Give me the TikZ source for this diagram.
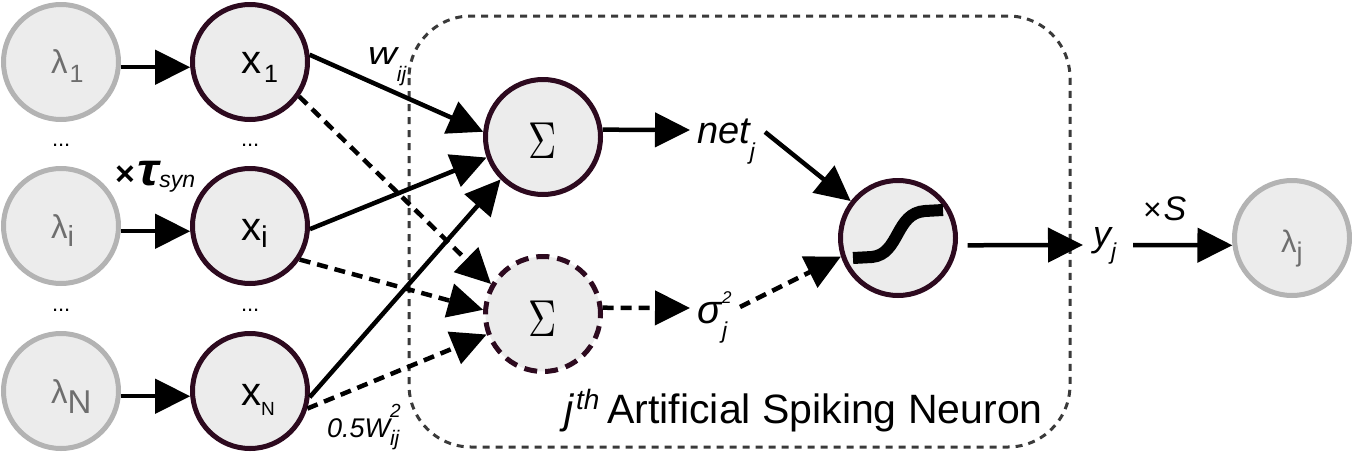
\documentclass[tikz,border=0pt]{standalone}
\usepackage{fontspec}
\setmainfont{Liberation Sans}
\usetikzlibrary{arrows.meta}
\newcommand\fsz[1]{\fontsize{#1}{#1}\selectfont}
\definecolor{lamgray}{HTML}{B3B3B3}
\definecolor{cfill}{HTML}{ECECEC}
\definecolor{dkp}{HTML}{2D0A1F}
\definecolor{ltxt}{HTML}{6E6E6E}
\definecolor{boxc}{HTML}{3A3A3A}
\begin{document}
\begin{tikzpicture}[x=1pt,y=-1pt,
  lam/.style={circle,minimum size=115pt,inner sep=0pt,line width=5pt,draw=lamgray,fill=cfill},
  neu/.style={circle,minimum size=115pt,inner sep=0pt,line width=5pt,draw=dkp,fill=cfill},
  neud/.style={neu,dash pattern=on 13pt off 8pt},
  lbl/.style={inner sep=0pt,outer sep=0pt,anchor=base west},
  conn/.style={line width=4.5pt,-{Triangle[length=35pt,width=34pt]}},
  dconn/.style={conn,dash pattern=on 11pt off 7pt},
  sumlbl/.style={inner sep=0pt},
]
\useasboundingbox (0,0) rectangle (1352,458);
% neuron box
\draw[boxc,line width=3pt,dash pattern=on 7pt off 6pt,rounded corners=62pt] (409,16) rectangle (1070,447);
% circles
\node[lam] (l1) at (61,62) {};
\node[lam] (li) at (61,226) {};
\node[lam] (lN) at (61,391) {};
\node[neu] (x1) at (250,62) {};
\node[neu] (xi) at (250,226) {};
\node[neu] (xN) at (250,391) {};
\node[neu] (sT) at (543,137) {};
\node[neud] (sB) at (543,314) {};
\node[neu] (sig) at (898,238) {};
\node[lam] (lj) at (1292,238) {};
% sigmoid glyph
\draw[line width=12pt] (853,258) -- (872,257) .. controls (900,254) and (895,213) .. (925,211) -- (943,210);
% free ends at text labels
\coordinate (netL) at (690,130);
\coordinate (netR) at (765,132);
\coordinate (sgL) at (690,308);
\coordinate (sgR) at (740,307);
\coordinate (yjL) at (1083,245);
\coordinate (yjR) at (1133,245);
% connectors
\draw[conn] (l1.-5) -- (x1.185);
\draw[conn] (li.-5) -- (xi.185);
\draw[conn] (lN.-5) -- (xN.185);
\draw[conn] (x1.7) -- (sT.175);
\draw[conn] (xi.-3) -- (sT.200);
\draw[conn] (xN.-6) -- (sT.225);
\draw[dconn] (x1.-35) -- (sB.150);
\draw[dconn] (xi.-34) -- (sB.176);
\draw[dconn] (xN.-17) -- (sB.200);
\draw[conn] (sT.7) -- (netL);
\draw[dconn] (sB.6) -- (sgL);
\draw[conn] (netR) -- (sig.142);
\draw[dconn] (sgR) -- (sig.198);
\draw[conn,shorten <=10pt] (sig.-7) -- (yjL);
\draw[conn] (yjR) -- (lj.187);
% labels in circles
\node[lbl,text=ltxt] (tl1) at (51,73) {\fsz{33}λ\kern2pt\raisebox{-9pt}{\fsz{25}1}};
\node[lbl,text=ltxt] (tli) at (51,238) {\fsz{33}λ\raisebox{-8pt}{\fsz{29}i}};
\node[lbl,text=ltxt] (tlN) at (51,403) {\fsz{33}λ\raisebox{-10pt}{\fsz{33}N}};
\node[lbl,text=ltxt] (tlj) at (1281,252) {\fsz{31}λ\raisebox{-9pt}{\fsz{27}j}};
\node[lbl] (tx1) at (241,73) {\fsz{40}x\kern3pt\raisebox{-9pt}{\fsz{25}1}};
\node[lbl] (txi) at (241,240) {\fsz{40}x\raisebox{-7pt}{\fsz{30}i}};
\node[lbl] (txN) at (241,405) {\fsz{40}x\raisebox{-10pt}{\fsz{19}N}};
\node[sumlbl] (tsT) at (543,141) {\scalebox{3.9}[5.2]{$\Sigma$}};
\node[sumlbl] (tsB) at (543,319) {\scalebox{3.9}[5.2]{$\Sigma$}};
% dots
\node[lbl] (d1) at (52,146) {\fsz{22}...};
\node[lbl] (d2) at (241,146) {\fsz{22}...};
\node[lbl] (d3) at (52,311) {\fsz{22}...};
\node[lbl] (d4) at (241,311) {\fsz{22}...};
% edge labels
\node[lbl] (wij) at (368,64) {\itshape\fsz{32}\scalebox{1.25}[1]{w}\raisebox{-17pt}{\fsz{21}ij}};
\node[lbl] (tau) at (115,185) {\fsz{34}\bfseries ×\kern3pt{\itshape\fsz{46}\scalebox{1.15}[1]{τ}}\raisebox{-2pt}{\mdseries\itshape\fsz{23}syn}};
\node[lbl] (w2) at (327,437) {\itshape\fsz{27}0.5W\rlap{\raisebox{20pt}{\fsz{19}2}}\raisebox{-8pt}{\fsz{21}ij}};
\node[lbl] (net) at (697,143) {\itshape\fsz{38}net\raisebox{-16pt}{\fsz{23}j}};
\node[lbl] (sg) at (697,323) {\itshape\fsz{40}σ\kern1pt\rlap{\raisebox{20pt}{\fsz{17}2}}\raisebox{-15pt}{\fsz{23}j}};
\node[lbl] (yj) at (1093,246) {\itshape\fsz{36}y\raisebox{-13pt}{\fsz{23}j}};
\node[lbl] (xS) at (1143,220) {\fsz{32}×\kern2pt\itshape\fsz{34}S};
\node[lbl] (ttl) at (564,423) {\fsz{41}{\itshape j\kern3pt\raisebox{14pt}{\fsz{28}th}}\kern8pt Artificial Spiking Neuron};
\end{tikzpicture}
\end{document}
